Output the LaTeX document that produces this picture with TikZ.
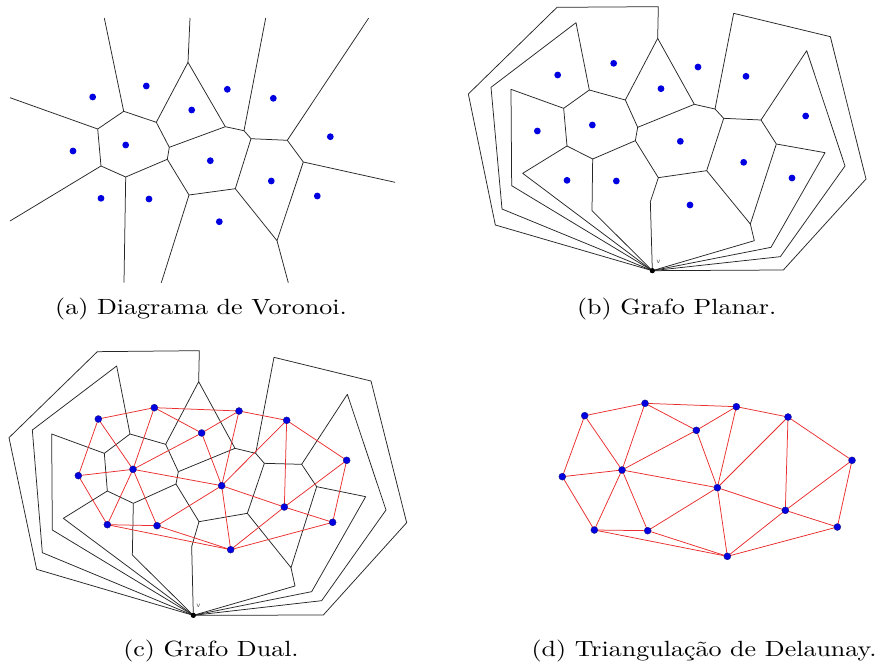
\documentclass[tikz,border=0pt]{standalone}
\usepackage{fontspec}
\usepackage{graphicx}
\definecolor{siteblue}{RGB}{0,0,225}
\definecolor{siteedge}{RGB}{20,20,120}
\definecolor{delred}{RGB}{235,45,45}
\tikzset{
  vor/.style={draw=black!85, line width=0.75pt, line join=round},
  site/.style={circle, fill=siteblue, inner sep=0pt, minimum size=6.8pt},
  dsite/.style={circle, fill=siteblue, draw=siteedge, line width=0.3pt, inner sep=0pt, minimum size=7pt},
  dedge/.style={draw=delred, line width=0.75pt},
  vnode/.style={circle, fill=black, inner sep=0pt, minimum size=5pt},
  vlabel/.style={font=\sffamily\fontsize{7.5}{8}\selectfont, text=black!70, inner sep=0pt},
  captext/.style={font=\fontsize{10}{12}\selectfont, inner sep=0pt, anchor=base}
}
\newcommand{\captxt}[1]{\scalebox{2.6}[2.2]{#1}}
\begin{document}
\begin{tikzpicture}[x=1pt,y=-1pt]
\useasboundingbox (0,0) rectangle (882,666);
\fill[white] (0,0) rectangle (882,666);

%%%%%%%%%%%%%%%% (a) Voronoi
\coordinate (aT1) at (104.3,18); \coordinate (aT2) at (190,18);
\coordinate (aT3) at (265.7,18); \coordinate (aT4) at (368.7,18);
\coordinate (aL1) at (10,97.7); \coordinate (aL2) at (10,221);
\coordinate (aR) at (395,182.3);
\coordinate (aB1) at (124,282.7); \coordinate (aB2) at (161.3,282.7); \coordinate (aB3) at (288.3,282.7);
\coordinate (aA) at (123.7,111.3); \coordinate (aB) at (97.7,129);
\coordinate (aC) at (101,166); \coordinate (aD) at (125.7,177);
\coordinate (aE) at (167.3,159.3); \coordinate (aF) at (169.3,147.3);
\coordinate (aG) at (156.3,122.3); \coordinate (aH) at (188,62.3);
\coordinate (aI) at (225.3,126.7); \coordinate (aJ) at (244,130.7);
\coordinate (aK) at (251,138.7); \coordinate (aL) at (287.3,140.3);
\coordinate (aM) at (303.3,162); \coordinate (aN) at (277,240.7);
\coordinate (aO) at (235.3,188.7); \coordinate (aP) at (189,195);
\draw[vor] (aA) -- (aB) -- (aC) -- (aD) -- (aE) -- (aF) -- (aG) -- cycle;
\draw[vor] (aG) -- (aH) -- (aI) -- (aJ) -- (aK) -- (aL) -- (aM) -- (aN) -- (aO) -- (aP) -- (aE);
\draw[vor] (aF) -- (aI); \draw[vor] (aK) -- (aO);
\draw[vor] (aT1) -- (aA); \draw[vor] (aH) -- (aT2); \draw[vor] (aJ) -- (aT3); \draw[vor] (aL) -- (aT4);
\draw[vor] (aL1) -- (aB); \draw[vor] (aL2) -- (aC); \draw[vor] (aM) -- (aR);
\draw[vor] (aD) -- (aB1); \draw[vor] (aP) -- (aB2); \draw[vor] (aN) -- (aB3);
\foreach \n/\x/\y in {1/92.7/97,2/146.3/86,3/191.7/110,4/227.3/89.3,5/273.3/98.3,6/330.3/136.7,7/73/151,8/125.7/145,9/210.3/160.7,10/271.3/181,11/317.3/196,12/101/198.3,13/149/199,14/219.3/221.7}
  \node[site] (as\n) at (\x,\y) {};
\node[captext] (capa) at (201,314.5) {\captxt{(a) Diagrama de Voronoi.}};

%%%%%%%%%%%%%%%% (b) Planar
\node[vnode] (bv) at (652.33,270.67) {};
\node[vlabel] (bvl) at (658.5,261.5) {v};
\coordinate (bA) at (589.33,90); \coordinate (bB) at (563.67,108.33);
\coordinate (bC) at (567,146); \coordinate (bD) at (592.67,159);
\coordinate (bE) at (635.33,140.67); \coordinate (bF) at (637.67,127.33);
\coordinate (bG) at (625.33,100); \coordinate (bH) at (657.67,38.33);
\coordinate (bI) at (694.33,104.33); \coordinate (bJ) at (715,109);
\coordinate (bK) at (723.67,118.33); \coordinate (bL) at (761,120);
\coordinate (bM) at (776.33,144); \coordinate (bN) at (750.33,224);
\coordinate (bO) at (706.67,170.67); \coordinate (bP) at (658.33,177.67);
\draw[vor] (bA) -- (bB) -- (bC) -- (bD) -- (bE) -- (bF) -- (bG) -- cycle;
\draw[vor] (bG) -- (bH) -- (bI) -- (bJ) -- (bK) -- (bL) -- (bM) -- (bN) -- (bO) -- (bP) -- (bE);
\draw[vor] (bF) -- (bI); \draw[vor] (bK) -- (bO);
\draw[vor] (bH) -- (658.33,6.67) -- (557,7.33) -- (468.33,94) -- (495.33,225) -- (bv.center);
\draw[vor] (bA) -- (576,22.67) -- (491,87.33) -- (502,209) -- (bv.center);
\draw[vor] (bB) -- (511,89.33) -- (511.67,185.67) -- (bv.center);
\draw[vor] (bC) -- (522.67,173.33) -- (bv.center);
\draw[vor] (bD) -- (592,210.67) -- (bv.center);
\draw[vor] (bP) -- (650.33,201.67) -- (bv.center);
\draw[vor] (bJ) -- (733.67,13.33) -- (830.33,36.67) -- (866,179) -- (783.33,270) -- (bv.center);
\draw[vor] (bL) -- (806.67,50.67) -- (845,166) -- (780.33,256.67) -- (bv.center);
\draw[vor] (bM) -- (825,152.67) -- (771,247.33) -- (bv.center);
\draw[vor] (bN) -- (754.33,240.67) -- (bv.center);
\node[vnode] at (bv) {};
\foreach \n/\x/\y in {1/557.67/75,2/613.67/63.33,3/661/88.67,4/698/67,5/746/76.33,6/805.67/116,7/537.33/131,8/592.33/125,9/680.33/141.33,10/743.67/162.33,11/792/178,12/567/180.33,13/616.33/181,14/690/205}
  \node[site] (bs\n) at (\x,\y) {};
\node[captext] (capb) at (676.7,314.5) {\captxt{(b) Grafo Planar.}};

%%%%%%%%%%%%%%%% (c) Dual
\node[vnode] (cv) at (193.33,615.33) {};
\node[vlabel] (cvl) at (198.5,606) {v};
\coordinate (cA) at (130,434); \coordinate (cB) at (104.33,453.33);
\coordinate (cC) at (107.33,491); \coordinate (cD) at (133.33,503.33);
\coordinate (cE) at (176,484); \coordinate (cF) at (178.33,471.67);
\coordinate (cG) at (165.67,444.33); \coordinate (cH) at (198.67,381.67);
\coordinate (cI) at (235,448.33); \coordinate (cJ) at (255.67,453.33);
\coordinate (cK) at (264.33,463.33); \coordinate (cL) at (301.67,464.33);
\coordinate (cM) at (316.67,486.67); \coordinate (cN) at (291,567.67);
\coordinate (cO) at (247.33,513.33); \coordinate (cP) at (199,521.67);
\draw[vor] (cA) -- (cB) -- (cC) -- (cD) -- (cE) -- (cF) -- (cG) -- cycle;
\draw[vor] (cG) -- (cH) -- (cI) -- (cJ) -- (cK) -- (cL) -- (cM) -- (cN) -- (cO) -- (cP) -- (cE);
\draw[vor] (cF) -- (cI); \draw[vor] (cK) -- (cO);
\draw[vor] (cH) -- (199.33,350.67) -- (97.33,351.67) -- (9,437.67) -- (36.67,569.33) -- (cv.center);
\draw[vor] (cA) -- (116.67,366) -- (32.33,430) -- (42.33,552.67) -- (cv.center);
\draw[vor] (cB) -- (51.67,434) -- (52.33,530) -- (cv.center);
\draw[vor] (cC) -- (63.33,518.33) -- (cv.center);
\draw[vor] (cD) -- (132.33,555) -- (cv.center);
\draw[vor] (cP) -- (191.67,546.67) -- (cv.center);
\draw[vor] (cJ) -- (274,357.33) -- (371,381) -- (406.67,522.67) -- (323.33,615) -- (cv.center);
\draw[vor] (cL) -- (347.33,394.33) -- (386,510) -- (321.67,600.67) -- (cv.center);
\draw[vor] (cM) -- (365.67,496.67) -- (311.67,591.67) -- (cv.center);
\draw[vor] (cN) -- (295,586) -- (cv.center);
\node[vnode] at (cv) {};
\foreach \n/\x/\y in {1/98.33/419,2/154.33/407.67,3/201.67/433,4/239/411,5/286.67/420.33,6/346.67/460.33,7/78.33/475.67,8/133/469.33,9/221.67/485.67,10/284.33/507,11/332.67/522.33,12/107.33/524.67,13/157/525.67,14/230.67/549.67}
  \coordinate (cs\n) at (\x,\y);
\foreach \p/\q in {1/2,2/4,4/5,5/6,6/11,11/14,14/12,12/7,7/1,1/8,2/8,2/3,3/4,3/8,3/9,4/9,5/9,5/10,6/10,10/11,9/10,10/14,9/14,9/13,13/14,12/13,8/12,8/13,7/8,8/9}
  \draw[dedge] (cs\p) -- (cs\q);
\foreach \n in {1,...,14} \node[dsite] (csn\n) at (cs\n) {};
\node[captext] (capc) at (211,656.5) {\captxt{(c) Grafo Dual.}};

%%%%%%%%%%%%%%%% (d) Delaunay
\foreach \n/\x/\y in {1/584.67/415.67,2/645/403.33,3/696.33/430.33,4/736.33/406.67,5/788/417,6/852/460.33,7/562.33/476.67,8/622/470,9/717.33/487.67,10/785.33/510.33,11/837.33/527,12/594.33/530,13/647.67/530.67,14/727.33/556.33}
  \coordinate (ds\n) at (\x,\y);
\foreach \p/\q in {1/2,2/4,4/5,5/6,6/11,11/14,14/12,12/7,7/1,1/8,2/8,2/3,3/4,3/8,3/9,4/9,5/9,5/10,6/10,10/11,9/10,10/14,9/14,9/13,13/14,12/13,8/12,8/13,7/8,8/9}
  \draw[dedge] (ds\p) -- (ds\q);
\foreach \n in {1,...,14} \node[dsite] (dsn\n) at (ds\n) {};
\node[captext] (capd) at (704,656.5) {\captxt{(d) Triangulação de Delaunay.}};
\end{tikzpicture}
\end{document}
